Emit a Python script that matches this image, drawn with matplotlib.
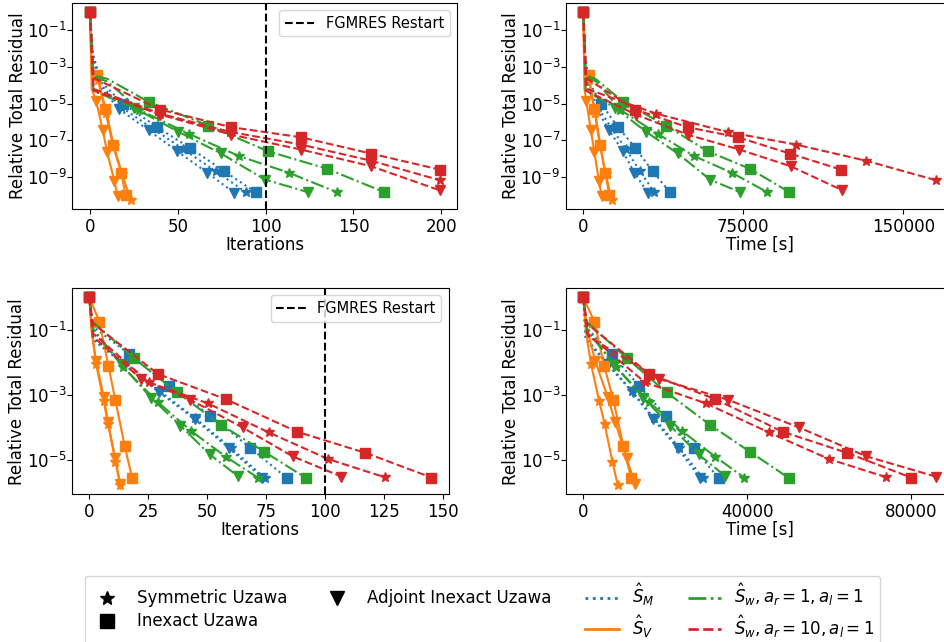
import matplotlib
matplotlib.use("Agg")
import matplotlib.pyplot as plt
from matplotlib.lines import Line2D
from matplotlib.ticker import NullLocator

# every list below holds three runs, in this order:
# Symmetric Uzawa, Inexact Uzawa, Adjoint Inexact Uzawa

# ---------- top row (first problem) ----------
# S_M
res_top_M = [[1.0, 5.0e-3, 1.12e-4, 6.3e-6, 4.5e-7, 3.3e-8, 2.0e-9, 1.45e-10],
             [1.0, 6.3e-3, 1.6e-4, 1.0e-5, 5.4e-7, 3.8e-8, 2.0e-9, 1.45e-10],
             [1.0, 4.0e-3, 7.9e-5, 5.1e-6, 3.4e-7, 2.5e-8, 1.66e-9, 1.35e-10]]
it_top_M = [[0, 1.5, 6, 17.7, 35.5, 53, 71.6, 88.8],
            [0, 1.5, 6, 18.9, 37.9, 57, 76.5, 94.3],
            [0, 1.5, 6, 16.4, 33.5, 49.7, 66.9, 82.1]]
time_top_M = [[0, 560, 2250, 6700, 13300, 20000, 26600, 33300],
              [0, 650, 2580, 8300, 16100, 24400, 32500, 40600],
              [0, 550, 2200, 6200, 12200, 18500, 24000, 30200]]
# S_V
res_top_V = [[1.0, 5.0e-4, 2.0e-4, 3.2e-6, 5.0e-8, 1.4e-9, 5.4e-11],
             [1.0, 1.0e-3, 3.4e-4, 5.0e-6, 5.8e-8, 1.6e-9, 1.0e-10],
             [1.0, 6.3e-5, 1.4e-5, 3.8e-7, 2.2e-8, 5.8e-10, 8.7e-11]]
it_top_V = [[0, 1, 4.7, 9.4, 13.5, 18.3, 23.2],
            [0, 1, 4, 8.5, 13, 17.8, 20.3],
            [0, 1, 3.5, 7.2, 9.8, 13.9, 15.8]]
time_top_V = [[0, 570, 2700, 5400, 7800, 10500, 13300],
              [0, 600, 2500, 5200, 8000, 10300, 12200],
              [0, 540, 1400, 3500, 5200, 7350, 8600]]
# S_w, a_r = 1
res_top_w1 = [[1.0, 2.8e-4, 1.6e-4, 4.5e-6, 2.2e-7, 1.35e-8, 1.66e-9, 1.45e-10],
              [1.0, 3.5e-4, 2.2e-4, 1.23e-5, 6.3e-7, 2.5e-8, 2.75e-9, 1.45e-10],
              [1.0, 5.0e-5, 5.8e-6, 2.9e-7, 1.9e-8, 7.1e-10, 1.45e-10]]
it_top_w1 = [[0, 2, 10, 28.2, 56.4, 85, 113.3, 140.6],
             [0, 2, 10, 33.5, 67.4, 101.3, 135, 167.6],
             [0, 2, 25, 50.3, 74.5, 99.6, 124.2]]
time_top_w1 = [[0, 1230, 6100, 17400, 34900, 52000, 69700, 86300],
               [0, 1150, 5760, 18750, 38800, 58300, 78100, 96600],
               [0, 1180, 15000, 29400, 44200, 59400, 73500]]
# S_w, a_r = 10
res_top_w10 = [[1.0, 6.3e-5, 2.8e-6, 2.8e-7, 5.8e-8, 7.6e-9, 6.6e-10],
               [1.0, 2.5e-4, 4.7e-6, 5.1e-7, 1.45e-7, 1.86e-8, 2.5e-9],
               [1.0, 5.0e-5, 2.5e-6, 2.0e-7, 3.1e-8, 3.8e-9, 1.86e-10]]
it_top_w10 = [[0, 2, 40, 80, 120, 160, 199],
              [0, 2, 40, 80.5, 120, 160, 199],
              [0, 2, 40, 80.5, 120, 160, 199]]
time_top_w10 = [[0, 1660, 34100, 67700, 99600, 132500, 165200],
                [0, 1200, 24400, 48900, 72400, 96900, 120700],
                [0, 1220, 24700, 48900, 73100, 97200, 121400]]

# ---------- bottom row (second problem) ----------
res_bot_M = [[1.0, 5.6e-2, 1.0e-2, 1.3e-3, 1.9e-4, 2.4e-5, 2.75e-6],
             [1.0, 0.126, 1.78e-2, 1.95e-3, 2.3e-4, 2.4e-5, 2.75e-6],
             [1.0, 5.0e-2, 8.7e-3, 1.2e-3, 1.8e-4, 2.3e-5, 2.9e-6]]
it_bot_M = [[0, 1.5, 15, 30, 45, 60, 74.5],
            [0, 1.5, 17, 33.9, 51.3, 68.2, 83.9],
            [0, 1.5, 14.6, 29.7, 44.7, 59.3, 73.2]]
time_bot_M = [[0, 590, 5800, 11900, 17300, 23400, 29200],
              [0, 590, 6900, 13500, 20150, 26900, 33000],
              [0, 580, 5900, 12000, 17100, 23000, 28400]]

res_bot_V = [[1.0, 8.9e-2, 8.9e-3, 6.3e-4, 1.26e-4, 8.9e-6, 1.7e-6],
             [1.0, 0.18, 7.9e-3, 7.1e-4, 2.75e-5, 2.9e-6],
             [1.0, 0.1, 1.12e-2, 8.9e-4, 1.45e-4, 1.12e-5, 1.78e-6]]
it_bot_V = [[0, 1, 2.9, 6.1, 8.0, 11.1, 13.1],
            [0, 4.25, 8.1, 11, 15, 18.1],
            [0, 1, 2.8, 6.1, 7.9, 11, 13.1]]
time_bot_V = [[0, 640, 1880, 3900, 5200, 7100, 8400],
              [0, 2700, 5100, 7300, 9750, 11600],
              [0, 1000, 2900, 5900, 7800, 10600, 12600]]

res_bot_w1 = [[1.0, 0.112, 7.1e-3, 6.0e-4, 7.9e-5, 1.26e-5, 2.9e-6],
              [1.0, 0.178, 1.35e-2, 1.2e-3, 1.2e-4, 1.8e-5, 2.75e-6],
              [1.0, 0.1, 8.3e-3, 8.3e-4, 1.15e-4, 1.5e-5, 3.2e-6]]
it_bot_w1 = [[0, 1.5, 14.3, 29.1, 43.1, 57.9, 71.4],
             [0, 1.5, 18.8, 37.2, 55.9, 74.2, 92.1],
             [0, 1.5, 13.9, 26.1, 38.6, 51, 63]]
time_bot_w1 = [[0, 820, 8000, 16100, 24000, 32200, 39200],
               [0, 820, 10600, 20300, 30900, 40600, 50200],
               [0, 820, 7550, 14600, 21100, 28100, 34600]]

res_bot_w10 = [[1.0, 7.9e-2, 2.45e-3, 5.5e-4, 7.1e-5, 1.07e-5, 2.95e-6],
               [1.0, 0.158, 4.4e-3, 7.4e-4, 7.4e-5, 1.66e-5, 2.9e-6],
               [1.0, 6.3e-2, 3.1e-3, 7.1e-4, 1.0e-4, 1.3e-5, 3.1e-6]]
it_bot_w10 = [[0, 1.5, 25.2, 50.3, 76, 101.3, 125.3],
              [0, 1.5, 29.1, 57.9, 88.1, 117.1, 145.1],
              [0, 1.5, 22, 42.8, 65, 86.2, 106.9]]
time_bot_w10 = [[0, 890, 15000, 29900, 45200, 59900, 73900],
                [0, 830, 16100, 32200, 48600, 64300, 79850],
                [0, 1200, 18500, 35300, 52600, 69000, 85900]]

restart_iter = 100

method_labels = ["Symmetric Uzawa", "Inexact Uzawa", "Adjoint Inexact Uzawa"]
prec_labels = [r"$\hat{S}_M$", r"$\hat{S}_V$",
               r"$\hat{S}_w, a_r = 1, a_l = 1$", r"$\hat{S}_w, a_r = 10, a_l = 1$"]

markers = ["*", "s", "v"]
colors = ["tab:blue", "tab:orange", "tab:green", "tab:red"]
styles = [":", "-", "-.", "--"]

plt.rcParams["font.size"] = 12

fig = plt.figure(figsize=(9.45, 6.42), dpi=100)
ax1 = fig.add_axes([0.0767, 0.6737, 0.4069, 0.3224])
ax2 = fig.add_axes([0.5986, 0.6737, 0.4102, 0.3224])
ax3 = fig.add_axes([0.0764, 0.2298, 0.3983, 0.3217])
ax4 = fig.add_axes([0.5986, 0.2298, 0.4102, 0.3217])


def draw(ax, xs_all, res_all):
    for xs, rs, c, ls in zip(xs_all, res_all, colors, styles):
        for x, r, m in zip(xs, rs, markers):
            n = len(x)
            ax.plot(x, r, color=c, ls=ls, marker=m, ms=7,
                    markevery=[0] + list(range(n - 5, n)))


draw(ax1, [it_top_M, it_top_V, it_top_w1, it_top_w10],
     [res_top_M, res_top_V, res_top_w1, res_top_w10])
draw(ax2, [time_top_M, time_top_V, time_top_w1, time_top_w10],
     [res_top_M, res_top_V, res_top_w1, res_top_w10])
draw(ax3, [it_bot_M, it_bot_V, it_bot_w1, it_bot_w10],
     [res_bot_M, res_bot_V, res_bot_w1, res_bot_w10])
draw(ax4, [time_bot_M, time_bot_V, time_bot_w1, time_bot_w10],
     [res_bot_M, res_bot_V, res_bot_w1, res_bot_w10])

for ax in [ax1, ax3]:
    ax.axvline(restart_iter, color="k", ls="--", lw=1.5, label="FGMRES Restart")
    ax.legend(loc="upper right", fontsize=10.5)
    ax.set_xlabel("Iterations", labelpad=0)
for ax in [ax2, ax4]:
    ax.set_xlabel("Time [s]", labelpad=0)

for ax in [ax1, ax2, ax3, ax4]:
    ax.set_yscale("log")
    ax.set_ylabel("Relative Total Residual", labelpad=0.5)
    ax.tick_params(axis="y", pad=0.5)
    ax.tick_params(axis="x", pad=2.5)

ax1.set_yticks([1e-1, 1e-3, 1e-5, 1e-7, 1e-9])
ax2.set_yticks([1e-1, 1e-3, 1e-5, 1e-7, 1e-9])
ax3.set_yticks([1e-1, 1e-3, 1e-5])
ax4.set_yticks([1e-1, 1e-3, 1e-5])
ax1.set_xticks([0, 50, 100, 150, 200])
ax2.set_xticks([0, 75000, 150000])
ax3.set_xticks([0, 25, 50, 75, 100, 125, 150])
ax4.set_xticks([0, 40000, 80000])
for ax in [ax1, ax2, ax3, ax4]:
    ax.yaxis.set_minor_locator(NullLocator())

handles = [Line2D([], [], ls="", marker=m, color="k", ms=10, label=l)
           for m, l in zip(markers[:2], method_labels[:2])]
handles += [Line2D([], [], ls="", marker="v", color="k", ms=10, label=method_labels[2]),
            Line2D([], [], ls="", marker="", label=" ")]
handles += [Line2D([], [], color=c, ls=s, lw=2, label=l)
            for c, s, l in zip(colors, styles, prec_labels)]
fig.legend(handles=handles, loc="upper center", ncol=4, fontsize=12,
           bbox_to_anchor=(482.5 / 945, 1 - 576 / 642), borderaxespad=0,
           borderpad=0.35, labelspacing=0.3)

fig.savefig("out.png", dpi=100)
